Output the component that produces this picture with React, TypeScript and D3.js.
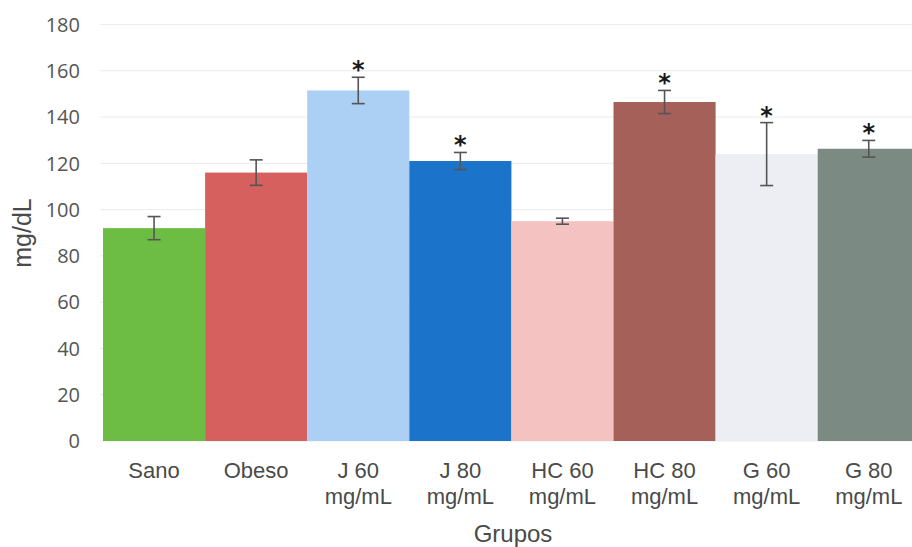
import React, { useRef, useEffect } from "react";
import * as d3 from "d3";

const groups = ["Sano", "Obeso", "J 60 mg/mL", "J 80 mg/mL", "HC 60 mg/mL", "HC 80 mg/mL", "G 60 mg/mL", "G 80 mg/mL"];
const means = [92, 116, 151.5, 121, 95, 146.5, 124, 126.3];
const errors = [5, 5.5, 5.7, 3.7, 1.3, 5, 13.6, 3.6];
const significant = [false, false, true, true, false, true, true, true];
const colors = ["#6dbd45", "#d6605e", "#abd0f4", "#1b74ca", "#f4c3c1", "#a6605a", "#ededf4", "#7c8a84"];
const yTicks = [0, 20, 40, 60, 80, 100, 120, 140, 160, 180];

const App = () => {
  const svgRef = useRef<SVGSVGElement | null>(null);

  useEffect(() => {
    const svg = d3.select(svgRef.current);
    svg.selectAll("*").remove();

    const width = 912;
    const height = 547;
    const left = 103;
    const step = 102.1;
    const bottom = 441;
    const top = 24.5;

    svg.attr("width", width).attr("height", height);

    const x = d3
      .scaleBand()
      .domain(groups)
      .range([left, left + step * groups.length])
      .padding(0);

    const y = d3.scaleLinear().domain([0, 180]).range([bottom, top]);

    // líneas de cuadrícula
    svg
      .append("g")
      .selectAll("line")
      .data(yTicks)
      .enter()
      .append("line")
      .attr("x1", 100)
      .attr("x2", width)
      .attr("y1", (d) => y(d))
      .attr("y2", (d) => y(d))
      .attr("stroke", "#ebebeb")
      .attr("stroke-width", 1);

    // etiquetas eje Y
    svg
      .append("g")
      .selectAll("text")
      .data(yTicks)
      .enter()
      .append("text")
      .attr("x", 80)
      .attr("y", (d) => y(d))
      .attr("dy", "0.36em")
      .attr("text-anchor", "end")
      .attr("font-family", "'Open Sans', sans-serif")
      .attr("font-size", 20)
      .attr("fill", "#555")
      .text((d) => d);

    // barras
    svg
      .append("g")
      .selectAll("rect")
      .data(groups)
      .enter()
      .append("rect")
      .attr("x", (d) => x(d) as number)
      .attr("y", (d, i) => y(means[i]))
      .attr("width", x.bandwidth())
      .attr("height", (d, i) => bottom - y(means[i]))
      .attr("fill", (d, i) => colors[i]);

    // barras de error
    const err = svg.append("g").attr("stroke", "#555").attr("stroke-width", 1.6);
    groups.forEach((g, i) => {
      const cx = (x(g) as number) + x.bandwidth() / 2;
      const hi = y(means[i] + errors[i]);
      const lo = y(means[i] - errors[i]);
      err.append("line").attr("x1", cx).attr("x2", cx).attr("y1", hi).attr("y2", lo);
      err.append("line").attr("x1", cx - 6.5).attr("x2", cx + 6.5).attr("y1", hi).attr("y2", hi);
      err.append("line").attr("x1", cx - 6.5).attr("x2", cx + 6.5).attr("y1", lo).attr("y2", lo);
      if (significant[i]) {
        svg
          .append("text")
          .attr("x", cx)
          .attr("y", hi + 1)
          .attr("text-anchor", "middle")
          .attr("font-family", "'DejaVu Sans', sans-serif")
          .attr("font-weight", "bold")
          .attr("font-size", 24)
          .attr("fill", "#1a1a1a")
          .text("*");
      }
    });

    // etiquetas eje X
    const xl = svg.append("g");
    groups.forEach((g) => {
      const cx = (x(g) as number) + x.bandwidth() / 2;
      const parts = g.split(" ");
      const lines = parts.length > 1 ? [parts.slice(0, 2).join(" "), parts.slice(2).join(" ")].filter((s) => s) : [g];
      lines.forEach((t, j) => {
        xl.append("text")
          .attr("x", cx)
          .attr("y", 478 + j * 26)
          .attr("text-anchor", "middle")
          .attr("font-family", "'Liberation Sans', Arial, sans-serif")
          .attr("font-size", 22)
          .attr("fill", "#4a4a4a")
          .text(t);
      });
    });

    // títulos de ejes
    svg
      .append("text")
      .attr("x", 513)
      .attr("y", 542)
      .attr("text-anchor", "middle")
      .attr("font-family", "'Liberation Sans', Arial, sans-serif")
      .attr("font-size", 24)
      .attr("fill", "#4a4a4a")
      .text("Grupos");

    svg
      .append("text")
      .attr("transform", "translate(31, 233) rotate(-90)")
      .attr("text-anchor", "middle")
      .attr("font-family", "'Liberation Sans', Arial, sans-serif")
      .attr("font-size", 25)
      .attr("fill", "#4a4a4a")
      .text("mg/dL");
  }, []);

  return <svg ref={svgRef} style={{ position: "absolute", left: 0, top: 0 }} />;
};

export default App;
